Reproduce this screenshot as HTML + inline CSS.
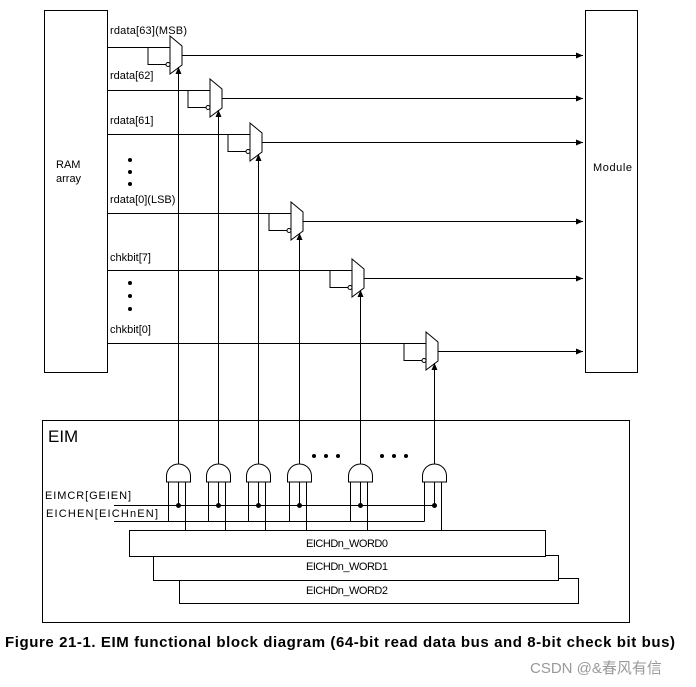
<!DOCTYPE html>
<html><head><style>
body{margin:0;background:#fff;}
svg{display:block;font-family:"Liberation Sans",sans-serif;}
</style></head><body>
<svg width="696" height="687" viewBox="0 0 696 687" xmlns="http://www.w3.org/2000/svg">
<defs>
<marker id="ar" markerWidth="8" markerHeight="8" refX="7" refY="4" orient="auto" markerUnits="userSpaceOnUse"><path d="M0,1 L7,4 L0,7 z" fill="#000"/></marker>
</defs>
<g stroke="#000" stroke-width="1" fill="none">
<rect x="44.5" y="10.5" width="63" height="362"/>
<rect x="585.5" y="10.5" width="52" height="362"/>
<rect x="42.5" y="420.5" width="587" height="202"/>
</g>
<text x="56" y="168" font-size="11">RAM</text>
<text x="56" y="182" font-size="11">array</text>
<text x="593" y="171" font-size="11" textLength="39">Module</text>
<text x="48" y="442" font-size="17">EIM</text>
<g font-size="11">
<text x="110" y="34" textLength="77">rdata[63](MSB)</text>
<text x="110" y="79">rdata[62]</text>
<text x="110" y="124">rdata[61]</text>
<text x="110" y="203">rdata[0](LSB)</text>
<text x="110" y="261">chkbit[7]</text>
<text x="110" y="333">chkbit[0]</text>
</g>
<g fill="#000">
<circle cx="130" cy="160" r="2"/><circle cx="130" cy="172" r="2"/><circle cx="130" cy="184" r="2"/>
<circle cx="130" cy="283" r="2"/><circle cx="130" cy="296" r="2"/><circle cx="130" cy="309" r="2"/>
<circle cx="314" cy="456" r="2"/><circle cx="326" cy="456" r="2"/><circle cx="338" cy="456" r="2"/>
<circle cx="382" cy="456" r="2"/><circle cx="394" cy="456" r="2"/><circle cx="406" cy="456" r="2"/>
</g>
<g stroke="#000" stroke-width="1" fill="none" id="muxes"></g>
<script>
var m=[[170,47],[210,90],[250,134],[291,213],[352,270],[426,343]];
var ns="http://www.w3.org/2000/svg",g=document.getElementById('muxes');
function el(t,a){var e=document.createElementNS(ns,t);for(var k in a)e.setAttribute(k,a[k]);g.appendChild(e);return e;}
m.forEach(function(p,i){var L=p[0],y=p[1]+.5,t=p[1]-11;
el('line',{x1:107,y1:y,x2:L,y2:y});
var lx=L-22;
el('polyline',{points:lx+','+y+' '+lx+','+(t+28.5)+' '+(L-4)+','+(t+28.5)});
el('circle',{cx:L-2,cy:t+28.5,r:2,fill:'#fff'});
el('polygon',{points:L+','+t+' '+(L+12)+','+(t+10)+' '+(L+12)+','+(t+29)+' '+L+','+(t+38),fill:'#fff'});
var oy=t+19.5;el('line',{x1:L+12,y1:oy,x2:583,y2:oy,'marker-end':'url(#ar)'});
var sx=L+8.5;el('line',{x1:sx,y1:465,x2:sx,y2:t+31,'marker-end':'url(#ar)'});
});
m.forEach(function(p,i){var sx=p[0]+8.5;
el('path',{d:'M'+(sx-12)+',482 L'+(sx-12)+',476 A12,12 0 0 1 '+(sx+12)+',476 L'+(sx+12)+',482 Z',fill:'#fff'});
el('line',{x1:sx-10,y1:482,x2:sx-10,y2:521.5});
el('line',{x1:sx,y1:482,x2:sx,y2:505.5});
el('circle',{cx:sx,cy:505.5,r:2,fill:'#000'});
el('line',{x1:sx+7,y1:482,x2:sx+7,y2:530});
});
var last=m[5][0]+8.5;
el('line',{x1:114,y1:505.5,x2:last,y2:505.5});
el('line',{x1:114,y1:521.5,x2:last-10,y2:521.5});
</script>
<g stroke="#000" stroke-width="1" fill="#fff">
<rect x="179.5" y="578.5" width="399" height="25"/>
<rect x="153.5" y="555.5" width="405" height="25"/>
<rect x="129.5" y="530.5" width="416" height="26"/>
</g>
<g font-size="11">
<text x="45" y="499" textLength="86">EIMCR[GEIEN]</text>
<text x="46" y="517" textLength="112">EICHEN[EICHnEN]</text>
<text x="306" y="547" textLength="82">EICHDn_WORD0</text>
<text x="306" y="570" textLength="82">EICHDn_WORD1</text>
<text x="306" y="594" textLength="82">EICHDn_WORD2</text>
</g>
<text x="5" y="647" font-size="15" font-weight="bold" textLength="670">Figure 21-1. EIM functional block diagram (64-bit read data bus and 8-bit check bit bus)</text>
<text x="530" y="673" font-size="15" fill="#999" font-family="Liberation Sans,Noto Sans CJK SC,sans-serif">CSDN @&amp;春风有信</text>
</svg>
</body></html>
